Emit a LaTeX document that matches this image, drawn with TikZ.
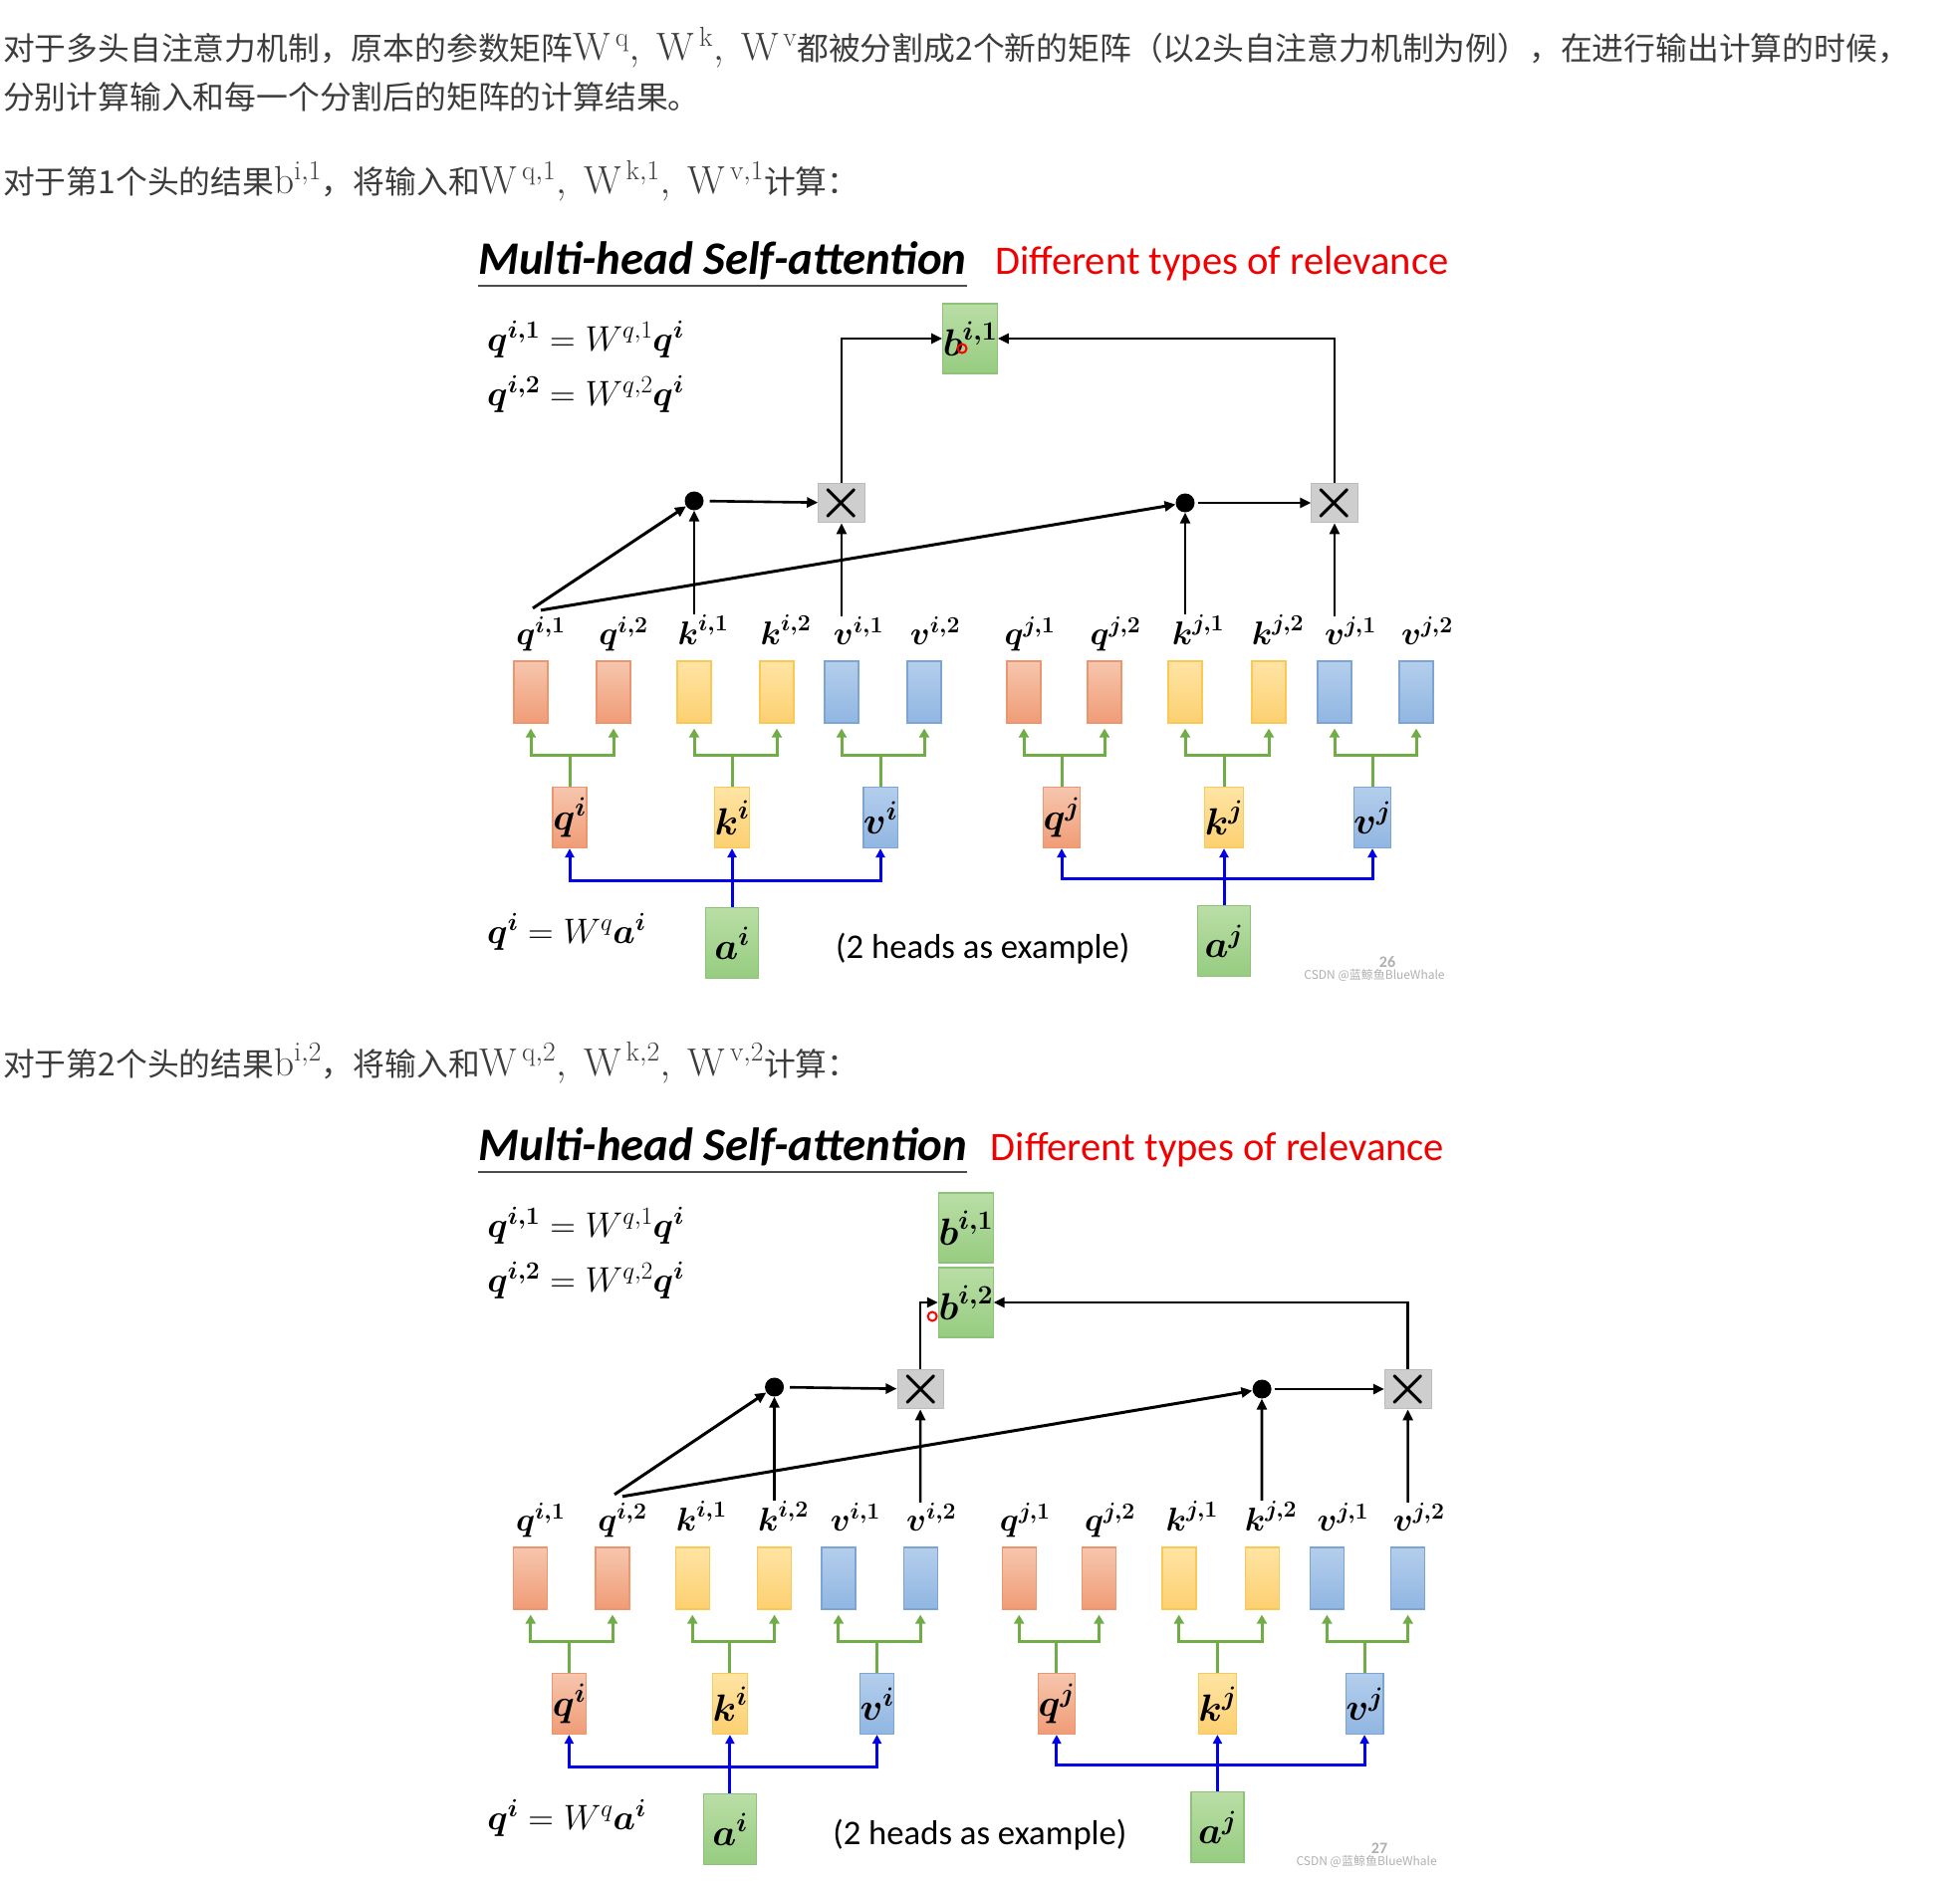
\documentclass[tikz,border=0pt]{standalone}
\usepackage{fix-cm}
\usepackage{amssymb}
\usepackage{amsmath}
\usepackage{xcolor}
\usepackage{fontspec}
\newfontfamily\cjkfont{Noto Sans CJK SC}
\newfontfamily\slidefont{Carlito}
\usetikzlibrary{arrows.meta}

\definecolor{prose}{RGB}{60,60,60}
\definecolor{markgray}{RGB}{175,175,175}
\definecolor{relred}{RGB}{240,0,0}
\definecolor{qtop}{RGB}{246,198,174}
\definecolor{qbot}{RGB}{240,156,118}
\definecolor{qline}{RGB}{236,150,112}
\definecolor{ktop}{RGB}{255,228,164}
\definecolor{kbot}{RGB}{252,208,112}
\definecolor{kline}{RGB}{250,200,84}
\definecolor{vtop}{RGB}{180,206,236}
\definecolor{vbot}{RGB}{144,182,226}
\definecolor{vline}{RGB}{125,165,212}
\definecolor{gtop}{RGB}{186,222,166}
\definecolor{gbot}{RGB}{150,204,128}
\definecolor{gline}{RGB}{140,195,120}
\definecolor{mulfill}{RGB}{206,206,206}
\definecolor{mulline}{RGB}{188,188,188}
\definecolor{splitgreen}{RGB}{112,173,71}
\definecolor{feedblue}{RGB}{0,0,235}

\begin{document}
\begin{tikzpicture}[x=1pt, y=-1pt,
  prose/.style={anchor=base west, inner sep=0pt, text=prose, font=\cjkfont\fontsize{31.8}{38}\selectfont},
  wm/.style={inner sep=0pt, text=markgray, font=\cjkfont\fontsize{12}{14}\selectfont},
  pgno/.style={inner sep=0pt, text=markgray, font=\slidefont\bfseries\fontsize{16}{18}\selectfont},
  headline/.style={anchor=base west, inner sep=0pt, font=\slidefont\bfseries\itshape\fontsize{46.8}{50}\selectfont},
  rule/.style={draw=black!70, line width=2pt},
  note/.style={anchor=base west, inner sep=0pt, text=relred, font=\slidefont\fontsize{40.6}{46}\selectfont},
  remark/.style={anchor=base west, inner sep=0pt, font=\slidefont\fontsize{34.7}{42}\selectfont},
  eqn/.style={anchor=base west, inner sep=0pt, font=\fontsize{35.5}{40}\selectfont},
  lbl/.style={anchor=base, inner sep=0pt, font=\fontsize{33}{40}\selectfont},
  vec/.style={rectangle, inner sep=0pt, minimum width=34pt, minimum height=62pt, line width=1.2pt, font=\fontsize{38}{44}\selectfont},
  qvec/.style={vec, draw=qline, top color=qtop, bottom color=qbot},
  kvec/.style={vec, draw=kline, top color=ktop, bottom color=kbot},
  vvec/.style={vec, draw=vline, top color=vtop, bottom color=vbot},
  gvec/.style={vec, draw=gline, top color=gtop, bottom color=gbot, minimum width=53pt},
  mulbox/.style={rectangle, inner sep=0pt, minimum width=34pt, minimum height=36pt, fill=mulfill, draw=mulline, line width=1pt, font=\fontsize{52}{56}\selectfont},
  dotnode/.style={circle, fill=black, inner sep=0pt, minimum size=19pt},
  flow/.style={draw=black, line width=2.6pt, -{Triangle[length=11pt,width=10pt]}},
  greenup/.style={draw=splitgreen, line width=3pt, -{Triangle[length=9pt,width=10pt]}, shorten >=5pt},
  blueup/.style={draw=feedblue, line width=3pt, -{Triangle[length=9pt,width=9pt]}},
  pointer/.style={circle, draw=red, line width=2pt, minimum size=9pt, inner sep=0pt},
  slide1/.style={},
  slide2/.style={shift={(4.6,890)}, xscale=0.991}]
\useasboundingbox (0,0) rectangle (1968,1889);

% text above the slides
\node[prose] (intro) at (3,61) {对于多头自注意力机制，原本的参数矩阵{\fontsize{39.4}{44}\selectfont$\mathrm{W}^{\,\mathrm{q}},\; \mathrm{W}^{\,\mathrm{k}},\; \mathrm{W}^{\,\mathrm{v}}$}都被分割成2个新的矩阵（以2头自注意力机制为例），在进行输出计算的时候，};
\node[prose] (intro2) at (3,110) {分别计算输入和每一个分割后的矩阵的计算结果。};
\node[prose] (head1txt) at (3,195) {对于第1个头的结果{\fontsize{39.4}{44}\selectfont$\mathrm{b}^{\mathrm{i},1}$}，将输入和{\fontsize{39.4}{44}\selectfont$\mathrm{W}^{\,\mathrm{q},1},\; \mathrm{W}^{\,\mathrm{k},1},\; \mathrm{W}^{\,\mathrm{v},1}$}计算：};
\node[prose] (head2txt) at (3,1080) {对于第2个头的结果{\fontsize{39.4}{44}\selectfont$\mathrm{b}^{\mathrm{i},2}$}，将输入和{\fontsize{39.4}{44}\selectfont$\mathrm{W}^{\,\mathrm{q},2},\; \mathrm{W}^{\,\mathrm{k},2},\; \mathrm{W}^{\,\mathrm{v},2}$}计算：};

% what both slides share
\foreach \sl/\pnum in {1/26, 2/27} {
\begin{scope}[slide\sl]
  \node[headline] (head-\sl) at (480,275) {Multi-head Self-attention};
  \draw[rule] ([yshift=-12pt]head-\sl.base west) -- ([yshift=-12pt]head-\sl.base east);
  \node[note] (rel-\sl) at (999,275) {Different types of relevance};
  \node[eqn] (eqa-\sl) at (489,352) {$\boldsymbol{q}^{\boldsymbol{i,1}} = W^{q,1}\boldsymbol{q}^{\boldsymbol{i}}$};
  \node[eqn] (eqb-\sl) at (489,407) {$\boldsymbol{q}^{\boldsymbol{i,2}} = W^{q,2}\boldsymbol{q}^{\boldsymbol{i}}$};
  \node[eqn] (eqc-\sl) at (489,947) {$\boldsymbol{q}^{\boldsymbol{i}} = W^{q}\boldsymbol{a}^{\boldsymbol{i}}$};
  \node[remark] (ex-\sl) at (839,962) {(2 heads as example)};
  \node[wm] (csdn-\sl) at (1380,979) {CSDN @蓝鲸鱼BlueWhale};
  \node[pgno] (pg-\sl) at (1393,966) {\pnum};

  \foreach \kind/\grp/\hd/\x/\lx in {q/i/1/533/543, q/i/2/616/626, k/i/1/697/706, k/i/2/780/789,
      v/i/1/845/862, v/i/2/928/939, q/j/1/1028/1034, q/j/2/1109/1120, k/j/1/1190/1203,
      k/j/2/1274/1283, v/j/1/1340/1356, v/j/2/1422/1433} {
    \node[\kind vec] (\kind\grp\hd-\sl) at (\x,695) {};
    \node[lbl] (l\kind\grp\hd-\sl) at (\lx,647) {$\boldsymbol{\kind}^{\boldsymbol{\grp,\hd}}$};
  }

  \node[gvec, minimum height=71pt] (ai-\sl) at (735,947) {$\boldsymbol{a}^{\boldsymbol{i}}$};
  \node[gvec, minimum height=71pt] (aj-\sl) at (1229,945) {$\boldsymbol{a}^{\boldsymbol{j}}$};

  \foreach \kind/\grp/\x in {q/i/572, k/i/735, v/i/884, q/j/1066, k/j/1229, v/j/1378} {
    \node[\kind vec, minimum height=61pt] (\kind\grp-\sl) at (\x,821) {$\boldsymbol{\kind}^{\boldsymbol{\grp}}$};
    \draw[greenup] (\kind\grp-\sl.north) -- ++(0,-31) -| (\kind\grp1-\sl.south);
    \draw[greenup] (\kind\grp-\sl.north) -- ++(0,-31) -| (\kind\grp2-\sl.south);
    \draw[blueup] (a\grp-\sl.north) -- ++(0,-26) -| (\kind\grp-\sl.south);
  }
\end{scope}
}

% head 1
\begin{scope}[slide1]
  \node[gvec, minimum height=70pt] (bi1-1) at (974,340) {$\boldsymbol{b}^{\boldsymbol{i,1}}$};
  \node[dotnode] (dot1-1) at (697,503) {};
  \node[dotnode] (dot2-1) at (1190,505) {};
  \node[mulbox] (mul1-1) at (845,505) {$\boldsymbol{\times}$};
  \node[mulbox] (mul2-1) at (1340,505) {$\boldsymbol{\times}$};
  \draw[flow, shorten <=6pt] (dot1-1) -- (mul1-1);
  \draw[flow, shorten <=3pt] (dot2-1) -- (mul2-1);
  \draw[flow, line width=3pt] ([xshift=-8pt,yshift=8pt]lqi1-1.north) -- (dot1-1);
  \draw[flow, line width=3pt] ([yshift=6pt]lqi1-1.north) -- (dot2-1);
  \draw[flow] (lki1-1.north -| dot1-1) -- (dot1-1);
  \draw[flow] (lvi1-1.north -| mul1-1) -- (mul1-1);
  \draw[flow] (lkj1-1.north -| dot2-1) -- (dot2-1);
  \draw[flow] (lvj1-1.north -| mul2-1) -- (mul2-1);
  \draw[flow] (mul1-1) |- (bi1-1);
  \draw[flow] (mul2-1) |- (bi1-1);
  \node[pointer] (ptr-1) at (966,350) {};
\end{scope}

% head 2
\begin{scope}[slide2]
  \node[gvec, minimum height=70pt] (bi1-2) at (974,343) {$\boldsymbol{b}^{\boldsymbol{i,1}}$};
  \node[gvec, minimum height=70pt] (bi2-2) at (974,418) {$\boldsymbol{b}^{\boldsymbol{i,2}}$};
  \node[dotnode] (dot1-2) at (780,503) {};
  \node[dotnode] (dot2-2) at (1274,505) {};
  \node[mulbox] (mul1-2) at (928,505) {$\boldsymbol{\times}$};
  \node[mulbox] (mul2-2) at (1422,505) {$\boldsymbol{\times}$};
  \draw[flow, shorten <=6pt] (dot1-2) -- (mul1-2);
  \draw[flow, shorten <=3pt] (dot2-2) -- (mul2-2);
  \draw[flow, line width=3pt] ([xshift=-8pt,yshift=8pt]lqi2-2.north) -- (dot1-2);
  \draw[flow, line width=3pt] ([yshift=6pt]lqi2-2.north) -- (dot2-2);
  \draw[flow] (lki2-2.north -| dot1-2) -- (dot1-2);
  \draw[flow] (lvi2-2.north -| mul1-2) -- (mul1-2);
  \draw[flow] (lkj2-2.north -| dot2-2) -- (dot2-2);
  \draw[flow] (lvj2-2.north -| mul2-2) -- (mul2-2);
  \draw[flow] (mul1-2) |- (bi2-2);
  \draw[flow] (mul2-2) |- (bi2-2);
  \node[pointer] (ptr-2) at (940,432) {};
\end{scope}
\end{tikzpicture}
\end{document}
